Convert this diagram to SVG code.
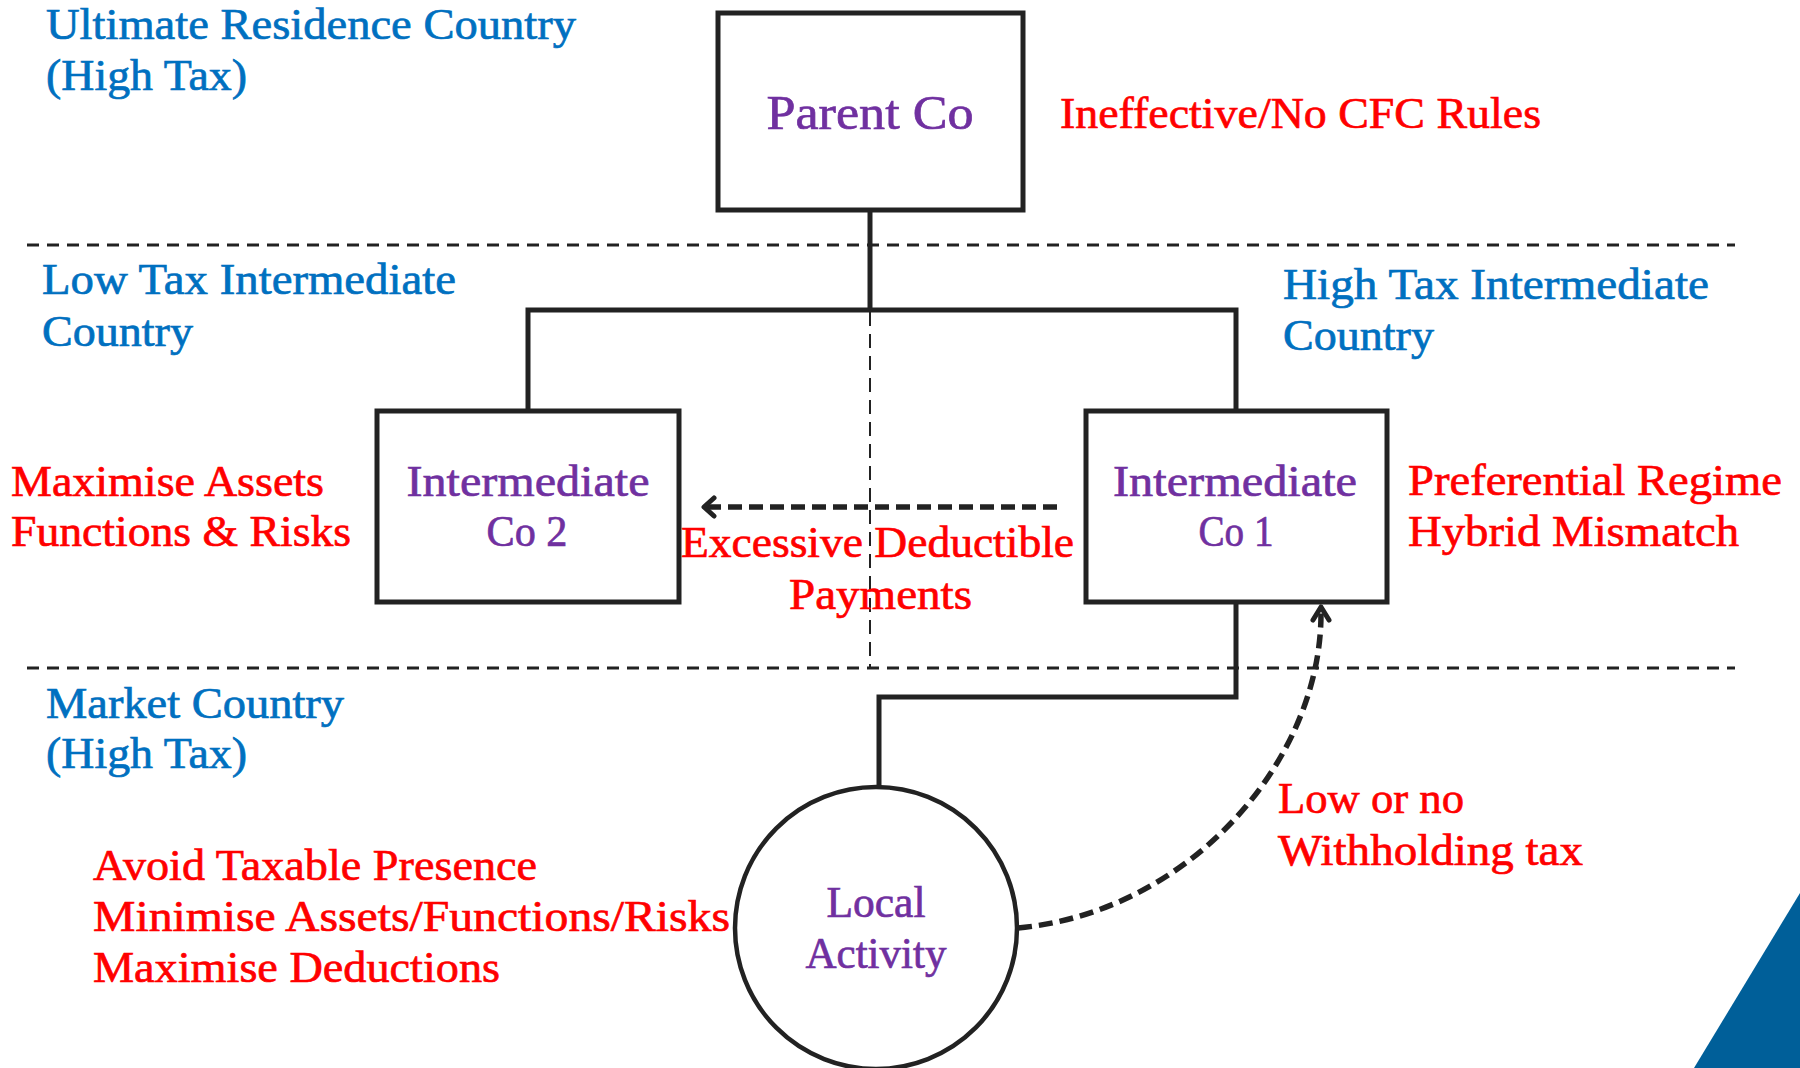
<svg xmlns="http://www.w3.org/2000/svg" width="1800" height="1068" viewBox="0 0 1800 1068">
<style>
text{font-family:"Liberation Serif","Times New Roman",serif;font-size:45px;stroke-width:0.7px}
.blue{fill:#0070C0;stroke:#0070C0}
.red{fill:#FF0000;stroke:#FF0000}
.purple{fill:#7030A0;stroke:#7030A0}
.box{fill:#fff;stroke:#222;stroke-width:5}
.line{fill:none;stroke:#222;stroke-width:5}
.sep{fill:none;stroke:#222;stroke-width:3;stroke-dasharray:12 8}
.vsep{fill:none;stroke:#222;stroke-width:2;stroke-dasharray:14 8}
.flow{fill:none;stroke:#222;stroke-width:5.5;stroke-dasharray:14 7}
.head{fill:none;stroke:#222;stroke-width:5;stroke-linecap:round;stroke-linejoin:round}
</style>
<rect width="1800" height="1068" fill="#fff"/>
<polygon points="1694,1068 1800,893 1800,1068" fill="#005f99"/>
<g id="separators">
<line class="sep" x1="27" y1="245" x2="1735" y2="245"/>
<line class="sep" x1="27" y1="668" x2="1735" y2="668"/>
<line class="vsep" x1="870" y1="312" x2="870" y2="668"/>
</g>
<g id="connectors">
<polyline class="line" points="870,210 870,310"/>
<polyline class="line" points="528,411 528,310 1236,310 1236,411"/>
<polyline class="line" points="1236,602 1236,697 879,697 879,787"/>
<line class="flow" x1="1057" y1="507" x2="706" y2="507"/>
<polyline class="head" points="714,498 704,507 714,516"/>
<path class="flow" d="M1018,928 C1190,912 1322,760 1321,612"/>
<polyline class="head" points="1313,620 1321,607 1329,620"/>
</g>
<g id="parent-co">
<rect class="box" x="718" y="13" width="305" height="197"/>
<text class="purple" x="870" y="129" text-anchor="middle" style="font-size:49px" textLength="207" lengthAdjust="spacingAndGlyphs">Parent Co</text>
</g>
<g id="intermediate-co-2">
<rect class="box" x="377" y="411" width="302" height="191"/>
<text class="purple" x="528" y="496" text-anchor="middle" textLength="243" lengthAdjust="spacingAndGlyphs">Intermediate</text>
<text class="purple" x="527" y="546" text-anchor="middle" textLength="81" lengthAdjust="spacingAndGlyphs">Co 2</text>
</g>
<g id="intermediate-co-1">
<rect class="box" x="1086" y="411" width="301" height="191"/>
<text class="purple" x="1235" y="496" text-anchor="middle" textLength="244" lengthAdjust="spacingAndGlyphs">Intermediate</text>
<text class="purple" x="1236" y="546" text-anchor="middle" textLength="75" lengthAdjust="spacingAndGlyphs">Co 1</text>
</g>
<g id="local-activity">
<circle cx="876" cy="928" r="141" fill="#fff" stroke="#222" stroke-width="4.5"/>
<text class="purple" x="876" y="917" text-anchor="middle" textLength="99" lengthAdjust="spacingAndGlyphs">Local</text>
<text class="purple" x="876" y="968" text-anchor="middle" textLength="141" lengthAdjust="spacingAndGlyphs">Activity</text>
</g>
<g id="labels">
<text class="blue" x="46" y="39" textLength="530" lengthAdjust="spacingAndGlyphs">Ultimate Residence Country</text>
<text class="blue" x="46" y="90" textLength="201" lengthAdjust="spacingAndGlyphs">(High Tax)</text>
<text class="red" x="1060" y="128" textLength="481" lengthAdjust="spacingAndGlyphs">Ineffective/No CFC Rules</text>
<text class="blue" x="42" y="294" textLength="414" lengthAdjust="spacingAndGlyphs">Low Tax Intermediate</text>
<text class="blue" x="42" y="346" textLength="151" lengthAdjust="spacingAndGlyphs">Country</text>
<text class="blue" x="1283" y="299" textLength="426" lengthAdjust="spacingAndGlyphs">High Tax Intermediate</text>
<text class="blue" x="1283" y="350" textLength="151" lengthAdjust="spacingAndGlyphs">Country</text>
<text class="red" x="11" y="496" textLength="313" lengthAdjust="spacingAndGlyphs">Maximise Assets</text>
<text class="red" x="11" y="546" textLength="340" lengthAdjust="spacingAndGlyphs">Functions &amp; Risks</text>
<text class="red" x="1408" y="495" textLength="374" lengthAdjust="spacingAndGlyphs">Preferential Regime</text>
<text class="red" x="1408" y="546" textLength="331" lengthAdjust="spacingAndGlyphs">Hybrid Mismatch</text>
<text class="red" x="681" y="557" textLength="393" lengthAdjust="spacingAndGlyphs">Excessive Deductible</text>
<text class="red" x="789" y="609" textLength="183" lengthAdjust="spacingAndGlyphs">Payments</text>
<text class="blue" x="46" y="718" textLength="298" lengthAdjust="spacingAndGlyphs">Market Country</text>
<text class="blue" x="46" y="768" textLength="201" lengthAdjust="spacingAndGlyphs">(High Tax)</text>
<text class="red" x="93" y="880" textLength="444" lengthAdjust="spacingAndGlyphs">Avoid Taxable Presence</text>
<text class="red" x="93" y="931" textLength="637" lengthAdjust="spacingAndGlyphs">Minimise Assets/Functions/Risks</text>
<text class="red" x="93" y="982" textLength="407" lengthAdjust="spacingAndGlyphs">Maximise Deductions</text>
<text class="red" x="1278" y="813" textLength="186" lengthAdjust="spacingAndGlyphs">Low or no</text>
<text class="red" x="1278" y="865" textLength="305" lengthAdjust="spacingAndGlyphs">Withholding tax</text>
</g>
</svg>
